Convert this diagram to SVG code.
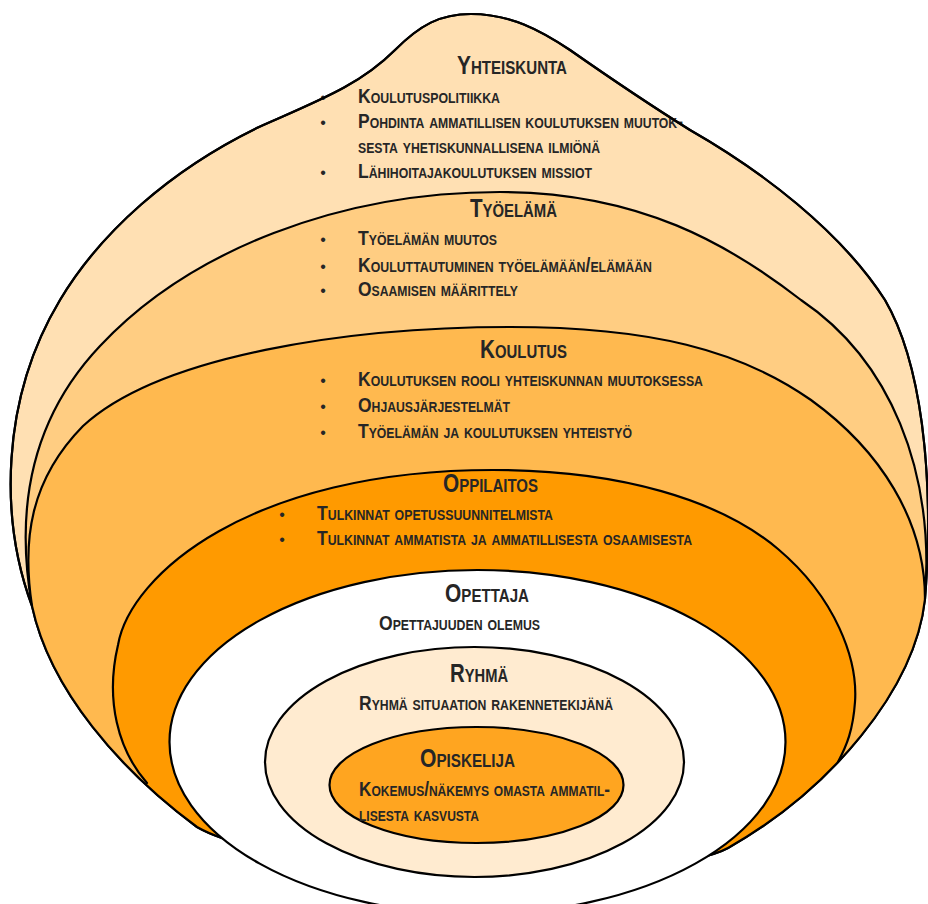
<svg xmlns="http://www.w3.org/2000/svg" xmlns:xlink="http://www.w3.org/1999/xlink" width="928" height="904" viewBox="0 0 928 904">
<style>
.ln { stroke:#000; stroke-width:2.2; stroke-linejoin:round; }
.t { font-family:"Liberation Sans Narrow","Liberation Sans",Arial,sans-serif; font-weight:bold; font-variant:small-caps; fill:#262626; }
.h { font-size:25px; }
.b { font-size:20px; }
.dot { font-family:"Liberation Sans",Arial,sans-serif; font-size:16px; fill:#262626; text-anchor:middle; }
</style>
<defs>
<path id="outerPath" d="M 32,606 C 0,520 0,400 60,300 C 100,233 170,170 259,127 C 320,100 360,85 395,50 C 420,25 440,14 471,14 C 510,14 540,30 570,50 C 610,78 650,105 690,130 C 760,170 840,230 885,300 C 920,360 935,470 925,599 C 915,690 830,790 728,848 C 660,885 290,880 197,827 C 120,770 50,690 32,606 Z"/>
<clipPath id="bowlClip">
<path d="M 32,606 C 0,520 0,400 60,300 C 100,233 170,170 259,127 C 320,100 360,85 395,50 C 420,25 440,14 471,14 C 510,14 540,30 570,50 C 610,78 650,105 690,130 C 760,170 840,230 885,300 C 920,360 935,470 925,599 C 915,690 830,790 728,848 C 660,885 290,880 197,827 C 120,770 50,690 32,606 Z"/>
</clipPath>
</defs>

<g id="yhteiskunta">
<use xlink:href="#outerPath" href="#outerPath" fill="#FFE0B3" class="ln"/>
<text class="t h" x="457" y="74" textLength="110" lengthAdjust="spacingAndGlyphs">Yhteiskunta</text>
<text class="dot" x="323" y="103">•</text>
<text class="t b" x="358" y="103" textLength="142" lengthAdjust="spacingAndGlyphs">Koulutuspolitiikka</text>
<text class="dot" x="323" y="128">•</text>
<text class="t b" x="358" y="128" textLength="325" lengthAdjust="spacingAndGlyphs">Pohdinta ammatillisen koulutuksen muutok-</text>
<text class="t b" x="358" y="153" textLength="242" lengthAdjust="spacingAndGlyphs">sesta yhetiskunnallisena ilmiönä</text>
<text class="dot" x="323" y="178">•</text>
<text class="t b" x="358" y="178" textLength="234" lengthAdjust="spacingAndGlyphs">Lähihoitajakoulutuksen missiot</text>
</g>

<g id="tyoelama">
<path clip-path="url(#bowlClip)" class="ln" fill="#FFCD82" d="M 32,606 C 15,510 30,420 100,346 C 190,250 340,192 500,192 C 640,192 730,245 801,300 C 890,360 935,470 925,599 L 980,720 L 480,990 L -30,720 Z"/>
<text class="t h" x="470" y="217" textLength="87" lengthAdjust="spacingAndGlyphs">Työelämä</text>
<text class="dot" x="323" y="245">•</text>
<text class="t b" x="358" y="245" textLength="139" lengthAdjust="spacingAndGlyphs">Työelämän muutos</text>
<text class="dot" x="323" y="272">•</text>
<text class="t b" x="358" y="272" textLength="294" lengthAdjust="spacingAndGlyphs">Kouluttautuminen työelämään/elämään</text>
<text class="dot" x="323" y="296">•</text>
<text class="t b" x="358" y="296" textLength="160" lengthAdjust="spacingAndGlyphs">Osaamisen määrittely</text>
</g>

<g id="koulutus">
<path clip-path="url(#bowlClip)" class="ln" fill="#FFB94F" d="M 32,606 C 22,540 30,480 83,426 C 160,355 350,327 510,327 C 650,327 740,350 811,400 C 880,450 925,520 925,599 L 980,720 L 480,990 L -30,720 Z"/>
<text class="t h" x="480" y="358" textLength="87" lengthAdjust="spacingAndGlyphs">Koulutus</text>
<text class="dot" x="323" y="386">•</text>
<text class="t b" x="358" y="386" textLength="345" lengthAdjust="spacingAndGlyphs">Koulutuksen rooli yhteiskunnan muutoksessa</text>
<text class="dot" x="323" y="412">•</text>
<text class="t b" x="358" y="412" textLength="152" lengthAdjust="spacingAndGlyphs">Ohjausjärjestelmät</text>
<text class="dot" x="323" y="438">•</text>
<text class="t b" x="358" y="438" textLength="274" lengthAdjust="spacingAndGlyphs">Työelämän ja koulutuksen yhteistyö</text>
</g>

<g id="oppilaitos">
<path clip-path="url(#bowlClip)" class="ln" fill="#FF9A00" d="M 147,783 C 118,750 105,700 118,645 C 130,575 250,470 493,470 C 620,470 720,500 778,549 C 836,598 858,660 855,702 C 853,730 847,745 838,762 L 900,800 L 480,990 L 90,830 Z"/>
<text class="t h" x="443" y="492" textLength="95" lengthAdjust="spacingAndGlyphs">Oppilaitos</text>
<text class="dot" x="282" y="520">•</text>
<text class="t b" x="317" y="520" textLength="236" lengthAdjust="spacingAndGlyphs">Tulkinnat opetussuunnitelmista</text>
<text class="dot" x="282" y="545">•</text>
<text class="t b" x="317" y="545" textLength="375" lengthAdjust="spacingAndGlyphs">Tulkinnat ammatista ja ammatillisesta osaamisesta</text>
</g>

<g id="outline">
<use xlink:href="#outerPath" href="#outerPath" fill="none" class="ln"/>
</g>

<g id="opettaja">
<ellipse cx="477.5" cy="742" rx="308" ry="172" fill="#FFFFFF" class="ln"/>
<text class="t h" x="445" y="602" textLength="84" lengthAdjust="spacingAndGlyphs">Opettaja</text>
<text class="t b" x="379" y="630" textLength="161" lengthAdjust="spacingAndGlyphs">Opettajuuden olemus</text>
</g>

<g id="ryhma">
<ellipse cx="474.5" cy="762" rx="209.5" ry="115" fill="#FFEBD0" class="ln"/>
<text class="t h" x="450" y="682" textLength="58" lengthAdjust="spacingAndGlyphs">Ryhmä</text>
<text class="t b" x="359" y="710" textLength="254" lengthAdjust="spacingAndGlyphs">Ryhmä situaation rakennetekijänä</text>
</g>

<g id="opiskelija">
<ellipse cx="476.5" cy="785" rx="147" ry="58" fill="#FFA520" class="ln"/>
<text class="t h" x="420" y="767" textLength="95" lengthAdjust="spacingAndGlyphs">Opiskelija</text>
<text class="t b" x="359" y="796" textLength="251" lengthAdjust="spacingAndGlyphs">Kokemus/näkemys omasta ammatil-</text>
<text class="t b" x="359" y="821" textLength="120" lengthAdjust="spacingAndGlyphs">lisesta kasvusta</text>
</g>
</svg>
